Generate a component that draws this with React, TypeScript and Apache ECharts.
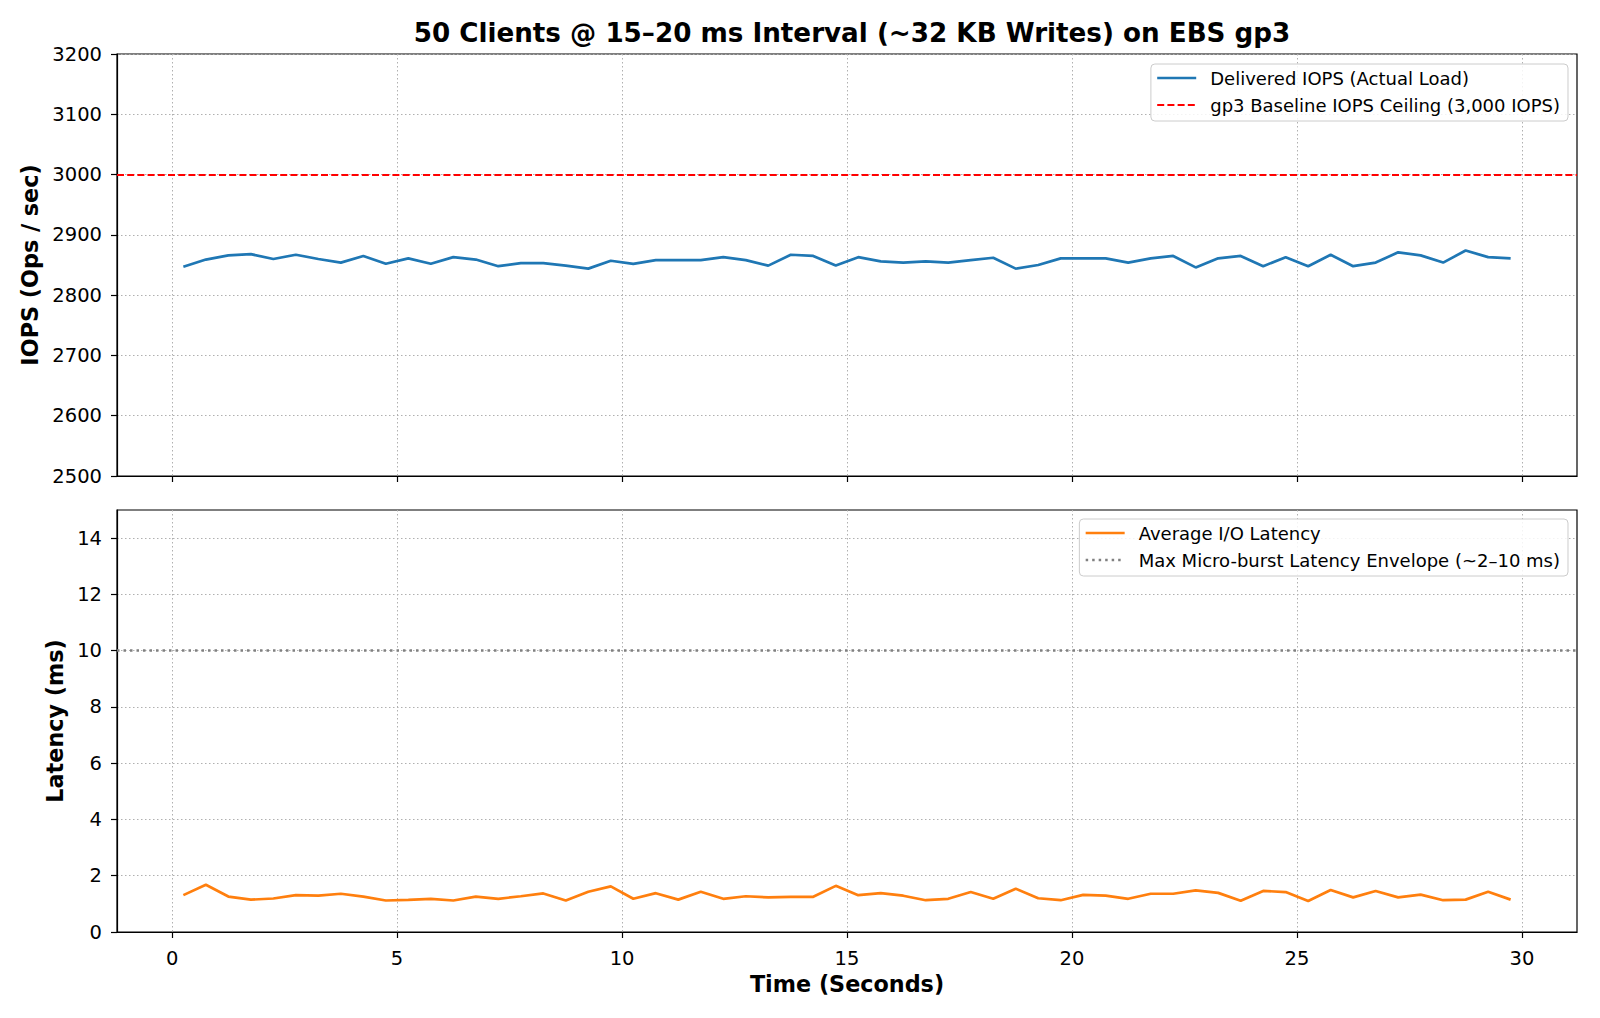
import React, { useEffect, useRef } from "react";
import * as echarts from "echarts";

const TIMES = [
  0.25, 0.75, 1.25, 1.75, 2.25, 2.75, 3.25, 3.75, 4.25, 4.75,
  5.25, 5.75, 6.25, 6.75, 7.25, 7.75, 8.25, 8.75, 9.25, 9.75,
  10.25, 10.75, 11.25, 11.75, 12.25, 12.75, 13.25, 13.75, 14.25, 14.75,
  15.25, 15.75, 16.25, 16.75, 17.25, 17.75, 18.25, 18.75, 19.25, 19.75,
  20.25, 20.75, 21.25, 21.75, 22.25, 22.75, 23.25, 23.75, 24.25, 24.75,
  25.25, 25.75, 26.25, 26.75, 27.25, 27.75, 28.25, 28.75, 29.25, 29.75,
];

const IOPS = [
  2847, 2859, 2866, 2868, 2860, 2867, 2860, 2854, 2865, 2852,
  2861, 2852, 2863, 2859, 2848, 2853, 2853, 2849, 2844, 2857,
  2852, 2858, 2858, 2858, 2863, 2858, 2849, 2867, 2865, 2849,
  2863, 2856, 2854, 2856, 2854, 2858, 2862, 2844, 2850, 2861,
  2861, 2861, 2854, 2861, 2865, 2846, 2861, 2865, 2848, 2863,
  2848, 2867, 2848, 2854, 2871, 2866, 2854, 2874, 2863, 2861,
];

const LATENCY = [
  1.31, 1.68, 1.26, 1.15, 1.19, 1.31, 1.29, 1.36, 1.26, 1.12,
  1.14, 1.18, 1.12, 1.26, 1.18, 1.27, 1.37, 1.12, 1.43, 1.62,
  1.18, 1.38, 1.15, 1.43, 1.18, 1.27, 1.23, 1.25, 1.25, 1.64,
  1.31, 1.38, 1.29, 1.13, 1.18, 1.42, 1.18, 1.54, 1.2, 1.13,
  1.32, 1.29, 1.18, 1.36, 1.36, 1.48, 1.39, 1.11, 1.46, 1.42,
  1.1, 1.49, 1.23, 1.46, 1.23, 1.33, 1.13, 1.15, 1.43, 1.15,
];

const IOPS_CEILING = 3000;
const LATENCY_ENVELOPE = 10;

const X_TICKS = [0, 5, 10, 15, 20, 25, 30];
const LAT_TICKS = [0, 2, 4, 6, 8, 10, 12, 14];

const TITLE = "50 Clients @ 15–20 ms Interval (~32 KB Writes) on EBS gp3";
const S_IOPS = "Delivered IOPS (Actual Load)";
const S_CEIL = "gp3 Baseline IOPS Ceiling (3,000 IOPS)";
const S_LAT = "Average I/O Latency";
const S_ENV = "Max Micro-burst Latency Envelope (~2–10 ms)";

const FONT = "DejaVu Sans";

export default function App() {
  const ref = useRef<HTMLDivElement>(null);

  useEffect(() => {
    document.body.style.margin = "0";
    if (!ref.current) return;
    const chart = echarts.init(ref.current, undefined, { renderer: "svg" });

    const gridCommon = {
      left: 117,
      width: 1460,
      height: 422,
      show: true,
      borderColor: "#000",
      borderWidth: 1.2,
      backgroundColor: "transparent",
    };

    const splitLine = {
      show: true,
      lineStyle: { color: "#b0b0b0", width: 1, type: [1.5, 2.5] as any },
    };
    const axisLine = { show: true, onZero: false, lineStyle: { color: "#000", width: 1.2 } };
    const axisTickStyle = { color: "#000", width: 1.2 };
    const labelStyle = {
      color: "#000",
      fontSize: 19.5,
      fontFamily: FONT,
      formatter: (v: number) => String(v),
    };
    const nameStyle = { color: "#000", fontSize: 22.3, fontWeight: "bold" as const, fontFamily: FONT };

    const xCommon = {
      type: "value" as const,
      min: -1.225,
      max: 31.225,
      splitLine,
      axisLine,
    };

    const legendCommon = {
      orient: "vertical" as const,
      right: 32,
      backgroundColor: "rgba(255,255,255,0.85)",
      borderColor: "#cccccc",
      borderWidth: 1,
      borderRadius: 4,
      padding: [4, 8, 6, 5],
      itemGap: 7,
      itemWidth: 39,
      itemHeight: 14,
      itemStyle: { opacity: 0 },
      lineStyle: { width: 2.6 },
      textStyle: {
        color: "#000",
        fontSize: 18,
        fontFamily: FONT,
        lineHeight: 20,
        padding: [0, 0, 0, 9],
      },
    };

    chart.setOption({
      animation: false,
      backgroundColor: "#fff",
      title: {
        text: TITLE,
        left: 847,
        textAlign: "center",
        top: 15,
        textStyle: { color: "#000", fontSize: 26.2, fontWeight: "bold", fontFamily: FONT },
      },
      legend: [
        {
          ...legendCommon,
          top: 64,
          data: [
            { name: S_IOPS, lineStyle: { width: 2.6, color: "#1f77b4" } },
            { name: S_CEIL, lineStyle: { width: 2.2, color: "#ff0000", type: [7, 3.2] } },
          ],
        },
        {
          ...legendCommon,
          top: 519,
          data: [
            { name: S_LAT, lineStyle: { width: 2.6, color: "#ff7f0e" } },
            { name: S_ENV, lineStyle: { width: 2.5, color: "#808080", type: [2.5, 4] } },
          ],
        },
      ],
      grid: [
        { ...gridCommon, top: 54 },
        { ...gridCommon, top: 510 },
      ],
      xAxis: [
        {
          ...xCommon,
          gridIndex: 0,
          axisTick: { show: true, length: 6, lineStyle: axisTickStyle, customValues: X_TICKS },
          axisLabel: { show: false, customValues: X_TICKS },
        },
        {
          ...xCommon,
          gridIndex: 1,
          name: "Time (Seconds)",
          nameLocation: "middle",
          nameGap: 41,
          nameTextStyle: nameStyle,
          axisTick: { show: true, length: 6, lineStyle: axisTickStyle, customValues: X_TICKS },
          axisLabel: { ...labelStyle, margin: 16, customValues: X_TICKS },
        },
      ],
      yAxis: [
        {
          type: "value",
          gridIndex: 0,
          min: 2500,
          max: 3200,
          interval: 100,
          name: "IOPS (Ops / sec)",
          nameLocation: "middle",
          nameGap: 68,
          nameTextStyle: nameStyle,
          splitLine,
          axisLine,
          axisTick: { show: true, length: 6, lineStyle: axisTickStyle },
          axisLabel: { ...labelStyle, margin: 15 },
        },
        {
          type: "value",
          gridIndex: 1,
          min: 0,
          max: 15,
          interval: 2,
          name: "Latency (ms)",
          nameLocation: "middle",
          nameGap: 48,
          nameTextStyle: nameStyle,
          splitLine,
          axisLine,
          axisTick: { show: true, length: 6, lineStyle: axisTickStyle, customValues: LAT_TICKS },
          axisLabel: { ...labelStyle, margin: 15, customValues: LAT_TICKS },
        },
      ],
      series: [
        {
          name: S_IOPS,
          type: "line",
          xAxisIndex: 0,
          yAxisIndex: 0,
          symbol: "none",
          showSymbol: false,
          data: TIMES.map((t, i) => [t, IOPS[i]]),
          lineStyle: { color: "#1f77b4", width: 2.7 },
          itemStyle: { color: "#1f77b4" },
          z: 3,
        },
        {
          name: S_CEIL,
          type: "line",
          xAxisIndex: 0,
          yAxisIndex: 0,
          symbol: "none",
          data: [],
          lineStyle: { color: "#ff0000", width: 2.2, type: [7, 3.2] },
          itemStyle: { color: "#ff0000" },
          markLine: {
            silent: true,
            symbol: ["none", "none"],
            label: { show: false },
            lineStyle: { color: "#ff0000", width: 2.2, type: [7, 3.2] },
            data: [{ yAxis: IOPS_CEILING }],
          },
        },
        {
          name: S_LAT,
          type: "line",
          xAxisIndex: 1,
          yAxisIndex: 1,
          symbol: "none",
          showSymbol: false,
          data: TIMES.map((t, i) => [t, LATENCY[i]]),
          lineStyle: { color: "#ff7f0e", width: 2.7 },
          itemStyle: { color: "#ff7f0e" },
          z: 3,
        },
        {
          name: S_ENV,
          type: "line",
          xAxisIndex: 1,
          yAxisIndex: 1,
          symbol: "none",
          data: [],
          lineStyle: { color: "#808080", width: 2.5, type: [2.5, 4] },
          itemStyle: { color: "#808080" },
          markLine: {
            silent: true,
            symbol: ["none", "none"],
            label: { show: false },
            lineStyle: { color: "#808080", width: 2.5, type: [2.5, 4] },
            data: [{ yAxis: LATENCY_ENVELOPE }],
          },
        },
      ],
    });

    return () => chart.dispose();
  }, []);

  return (
    <div
      ref={ref}
      style={{ position: "absolute", left: 0, top: 0, width: 1600, height: 1018, background: "#fff" }}
    />
  );
}
